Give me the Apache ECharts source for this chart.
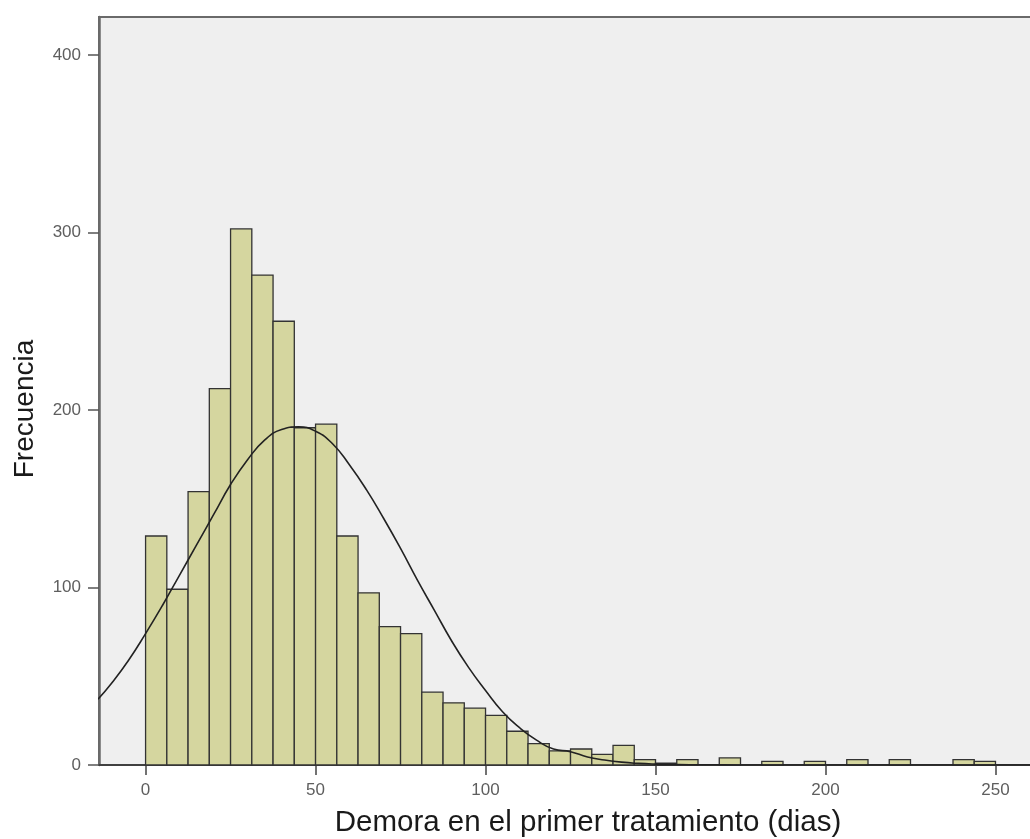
<!DOCTYPE html>
<html>
<head>
<meta charset="utf-8">
<script src="https://cdn.jsdelivr.net/npm/echarts@6/dist/echarts.min.js"></script>
<style>
html,body{margin:0;padding:0;background:#fff;}
#chart{width:1030px;height:839px;}
</style>
</head>
<body>
<div id="chart"></div>
<script>
// Histogram bins (days), bin width 6.25
const binStarts = [0, 6.25, 12.5, 18.75, 25, 31.25, 37.5, 43.75, 50, 56.25,
  62.5, 68.75, 75, 81.25, 87.5, 93.75, 100, 106.25, 112.5, 118.75,
  125, 131.25, 137.5, 143.75, 150, 156.25, 162.5, 168.75, 175, 181.25,
  187.5, 193.75, 200, 206.25, 212.5, 218.75, 225, 231.25, 237.5, 243.75];
const binWidth = 6.25;
const counts = [129, 99, 154, 212, 302, 276, 250, 190, 192, 129,
  97, 78, 74, 41, 35, 32, 28, 19, 12, 8,
  9, 6, 11, 3, 1, 3, 0, 4, 0, 2,
  0, 2, 0, 3, 0, 3, 0, 0, 3, 2];
// Normal curve points
const curveX = [-14, -10, -5, 0, 5, 10, 15, 20, 25, 30, 35, 40, 45, 50, 55, 60, 65, 70, 75, 80,
  85, 90, 95, 100, 105, 110, 115, 120, 125, 130, 135, 140, 145, 150, 155, 160, 170, 180, 200, 230, 263];
const curveY = [37, 46, 59, 74, 90, 107, 124, 141, 158, 172, 183, 189, 190.5, 188, 181, 169, 155, 139, 122, 104,
  87, 70, 55, 42, 30, 21, 14, 9, 7.5, 4.5, 2.8, 1.6, 0.9, 0.5, 0.3, 0.15, 0.05, 0, 0, 0, 0];
const xTicks = [0, 50, 100, 150, 200, 250];
const yTicks = [0, 100, 200, 300, 400];

const histData = binStarts.map((s, i) => [s, s + binWidth, counts[i]]);
const curveData = curveX.map((x, i) => [x, curveY[i]]);

const font = 'Liberation Sans, Arial, Helvetica, sans-serif';
const chart = echarts.init(document.getElementById('chart'), null, {renderer: 'canvas'});
chart.setOption({
  animation: false,
  backgroundColor: '#ffffff',
  grid: {
    left: 99, top: 17, width: 940, height: 748,
    outerBoundsMode: 'none',
    containLabel: false,
    show: true, backgroundColor: '#efefef',
    borderColor: '#6a6a6a', borderWidth: 2
  },
  xAxis: {
    type: 'value',
    min: -13.7, max: 262.8,
    name: 'Demora en el primer tratamiento (dias)',
    nameLocation: 'middle',
    nameGap: 43,
    nameTextStyle: {fontFamily: font, fontSize: 29.5, color: '#1a1a1a', padding: [0, 0, 0, 38]},
    axisLine: {show: true, onZero: false, lineStyle: {color: '#333', width: 1.5}},
    axisTick: {show: true, length: 10, customValues: xTicks, lineStyle: {color: '#444', width: 1.5}},
    axisLabel: {customValues: xTicks, margin: 17, fontFamily: font, fontSize: 17, color: '#5e5e5e'},
    splitLine: {show: false}
  },
  yAxis: {
    type: 'value',
    min: 0, max: 421.4,
    name: 'Frecuencia',
    nameLocation: 'middle',
    nameRotate: 90,
    nameGap: 60,
    nameTextStyle: {fontFamily: font, fontSize: 28, color: '#1a1a1a', padding: [0, 36, 0, 0]},
    axisLine: {show: true, onZero: false, lineStyle: {color: '#6a6a6a', width: 2.5}},
    axisTick: {show: true, length: 11, customValues: yTicks, lineStyle: {color: '#555', width: 1.5}},
    axisLabel: {customValues: yTicks, margin: 18, fontFamily: font, fontSize: 17, color: '#5e5e5e'},
    splitLine: {show: false}
  },
  series: [
    {
      type: 'custom',
      data: histData,
      encode: {x: [0, 1], y: 2},
      renderItem: function (params, api) {
        const v = api.value(2);
        if (v <= 0) return null;
        const p0 = api.coord([api.value(0), v]);
        const p1 = api.coord([api.value(1), 0]);
        return {
          type: 'rect',
          shape: {x: p0[0], y: p0[1], width: p1[0] - p0[0], height: p1[1] - p0[1]},
          style: {fill: '#d5d69f', stroke: '#333', lineWidth: 1.3}
        };
      },
      z: 2
    },
    {
      type: 'line',
      data: curveData,
      smooth: true,
      showSymbol: false,
      symbol: 'none',
      lineStyle: {color: '#222', width: 1.6},
      z: 3
    }
  ]
});
</script>
</body>
</html>
